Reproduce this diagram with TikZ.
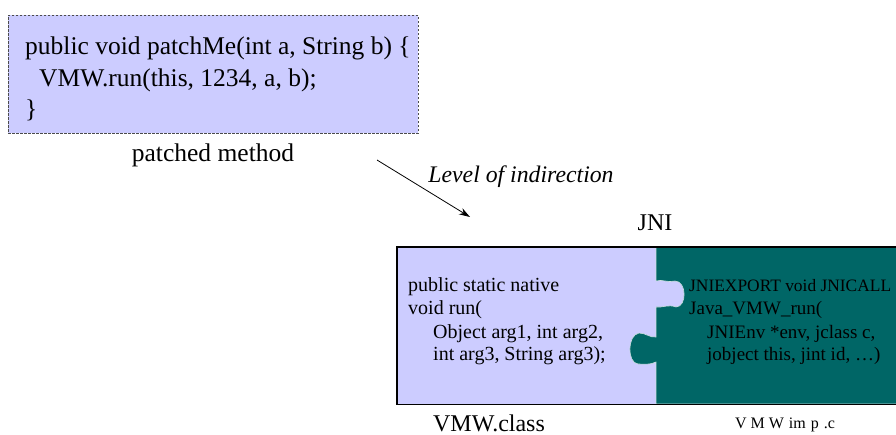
\documentclass[tikz,border=0pt]{standalone}
\usepackage{fontspec}
\setmainfont{Liberation Serif}
\usetikzlibrary{arrows.meta}
\definecolor{lav}{RGB}{204,204,255}
\definecolor{tealc}{RGB}{0,102,102}
\tikzset{
  codeA/.style={anchor=base west, inner sep=0pt, font=\fontsize{25.5}{30}\selectfont},
  codeB/.style={anchor=base west, inner sep=0pt, font=\fontsize{20}{23}\selectfont},
  codeC/.style={anchor=base west, inner sep=0pt, font=\fontsize{19}{23}\selectfont},
  lbl/.style={inner sep=0pt, font=\fontsize{24}{28}\selectfont},
  methodbox/.style={draw=black!70, dash pattern=on 2.5pt off 1.5pt, fill=lav, line width=0.8pt, inner sep=0pt, anchor=north west},
}
\begin{document}
\begin{tikzpicture}[x=1pt,y=-1pt]
\useasboundingbox (0,0) rectangle (896,435);
% patched method box
\node[methodbox, minimum width=410pt, minimum height=118pt] (box) at (8,15) {};
\node[codeA] (m1) at (25,55) {public void patchMe(int a, String b) \{};
\node[codeA] (m2) at (39,87) {VMW.run(this, 1234, a, b);};
\node[codeA] (m3) at (25,118) {\}};
\node[lbl, font=\fontsize{25.5}{30}\selectfont] (pm) at (213,155) {patched method};
% arrow
\coordinate (a1) at (377,160);
\coordinate (a2) at (470,217);
\draw[line width=0.8pt, -{Stealth[length=11pt,width=7pt]}] (a1) -- (a2);
\node[lbl, font=\fontsize{23.75}{28}\itshape] (lvl) at (521,177) {Level of indirection};
\node[lbl] (jni) at (655,223) {JNI};
% puzzle
\node[draw=none, fill=lav, minimum width=505pt, minimum height=157pt, anchor=north west, inner sep=0pt] (cls) at (397,247) {};
\path[fill=tealc, draw=white!80!tealc, line width=0.6pt]
  (656,247) -- (900,247) -- (900,404) -- (656,404) -- (656,362)
  .. controls (650,365) and (645,364) .. (638,364)
  .. controls (627,363) and (627,335) .. (639,333)
  .. controls (646,333) and (650,338) .. (656,337)
  -- (656,307)
  .. controls (662,308) and (668,304) .. (676,307)
  .. controls (687,307) and (687,281) .. (675,281)
  .. controls (668,283) and (662,279) .. (656,281)
  -- cycle;
\draw[black, line width=1.4pt] (cls.north east) -- (cls.north west) -- (cls.south west) -- (cls.south east);
% texts
\node[codeB] (j1) at (408,292) {public static native};
\node[codeB] (j2) at (408,315) {void run(};
\node[codeB] (j3) at (433,338) {Object arg1, int arg2,};
\node[codeB] (j4) at (433,360) {int arg3, String arg3);};
\node[codeC, font=\fontsize{17.4}{23}\selectfont] (c1) at (689,292) {JNIEXPORT void JNICALL};
\node[codeC] (c2) at (689,315) {Java\_VMW\_run(};
\node[codeC] (c3) at (707,338) {JNIEnv *env, jclass c,};
\node[codeC] (c4) at (707,360) {jobject this, jint id, \dots)};
\node[lbl] (vc) at (489,423) {VMW.class};
\node[lbl, font=\fontsize{16}{20}\selectfont] (vi) at (785,425) {V\kern4pt M\kern4pt W\kern5pt im\kern5pt p\kern5pt .c};
\end{tikzpicture}
\end{document}
